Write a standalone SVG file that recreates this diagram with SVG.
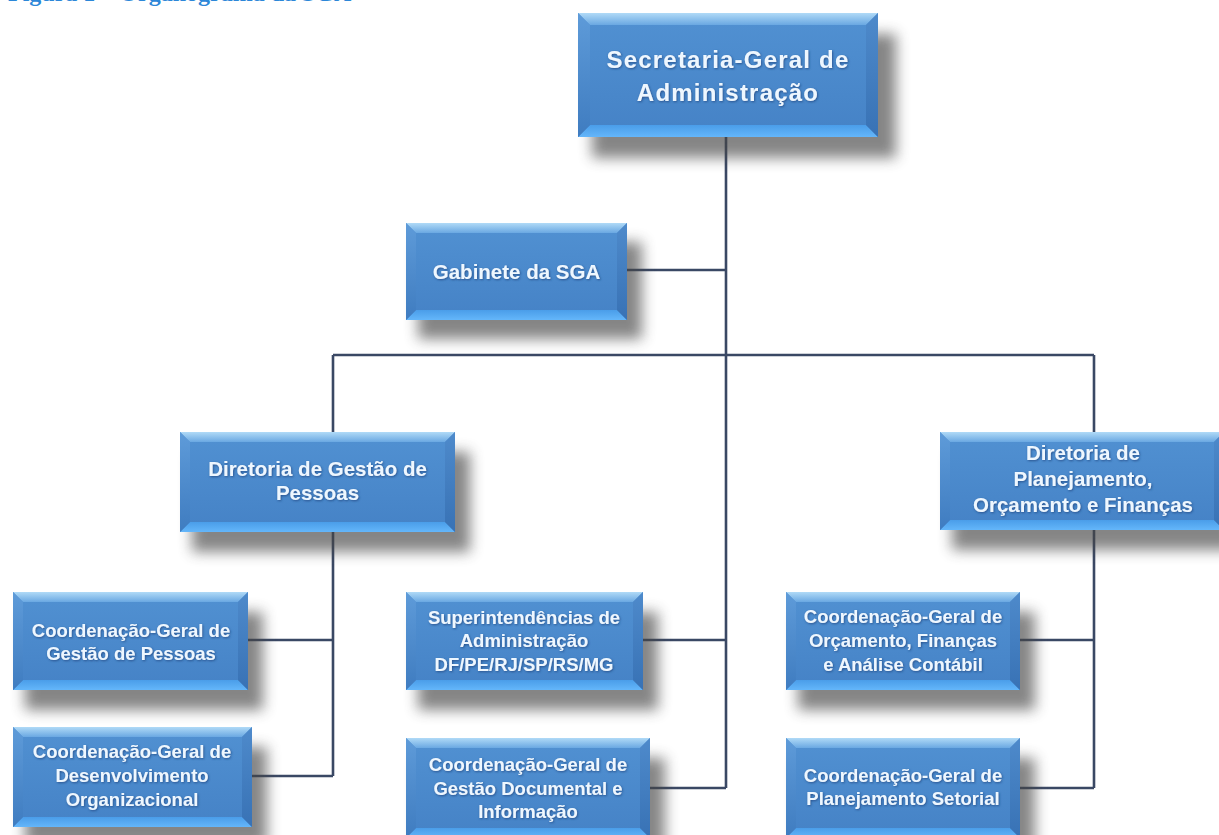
<svg xmlns="http://www.w3.org/2000/svg" width="1219" height="835" viewBox="0 0 1219 835">
  <defs>
    <linearGradient id="gFace" x1="0" y1="0" x2="0" y2="1">
      <stop offset="0" stop-color="#5191D2"/>
      <stop offset="1" stop-color="#4582C6"/>
    </linearGradient>
    <linearGradient id="gTop" x1="0" y1="0" x2="0" y2="1">
      <stop offset="0" stop-color="#B0DAF7"/>
      <stop offset="1" stop-color="#6AA8E2"/>
    </linearGradient>
    <linearGradient id="gBottom" x1="0" y1="0" x2="0" y2="1">
      <stop offset="0" stop-color="#4A9DE9"/>
      <stop offset="1" stop-color="#64B6FA"/>
    </linearGradient>
    <linearGradient id="gLeft" x1="0" y1="0" x2="0" y2="1">
      <stop offset="0" stop-color="#5E9BD9"/>
      <stop offset="1" stop-color="#3F7CC0"/>
    </linearGradient>
    <linearGradient id="gRight" x1="0" y1="0" x2="0" y2="1">
      <stop offset="0" stop-color="#4E8ACB"/>
      <stop offset="1" stop-color="#3872B5"/>
    </linearGradient>
    <filter id="blurShadow" x="-20%" y="-30%" width="140%" height="170%">
      <feGaussianBlur stdDeviation="7"/>
    </filter>
    <filter id="textGlow" x="-5%" y="-20%" width="110%" height="140%">
      <feDropShadow dx="0.8" dy="1" stdDeviation="0.9" flood-color="#1C4A82" flood-opacity="0.85"/>
    </filter>
  </defs>
  <style>
    .shadow { fill: #444; opacity: 0.65; filter: url(#blurShadow); }
    .face { fill: url(#gFace); }
    .bt { fill: url(#gTop); }
    .bb { fill: url(#gBottom); }
    .bl { fill: url(#gLeft); }
    .br { fill: url(#gRight); }
    .lbl { font-family: "Liberation Sans", Arial, sans-serif; font-weight: bold; fill: #EEF7FF; text-anchor: middle; filter: url(#textGlow); }
    .big { font-size: 24px; letter-spacing: 1.2px; }
    .mid { font-size: 20.5px; }
    .small { font-size: 18.5px; }
    .wire { fill: none; stroke: #3A4864; stroke-width: 2.6; }
    .caption { font-family: "Liberation Serif", "DejaVu Serif", serif; font-weight: bold; font-size: 24px; fill: #2C87D8; }
  </style>

  <!-- caption above the chart (cut at the top edge) -->
  <text class="caption" x="8" y="1">Figura 1 – Organograma da SGA</text>

  <!-- connectors -->
  <g id="connectors">
    <path class="wire" d="M726 137 V788"/>
    <path class="wire" d="M627 270 H726"/>
    <path class="wire" d="M333 355 H1094"/>
    <path class="wire" d="M333 355 V432 M333 532 V776"/>
    <path class="wire" d="M1094 355 V432 M1094 530 V788"/>
    <path class="wire" d="M248 640 H333 M252 776 H333"/>
    <path class="wire" d="M643 640 H726 M650 788 H726"/>
    <path class="wire" d="M1020 640 H1094 M1020 788 H1094"/>
  </g>

  <!-- Secretaria-Geral de Administração -->
  <g id="sga">
    <rect class="shadow" x="592" y="34" width="304" height="124"/>
    <rect class="face" x="578" y="13" width="300" height="124"/>
    <polygon class="bt" points="578,13 878,13 866,25 590,25"/>
    <polygon class="bb" points="578,137 878,137 866,125 590,125"/>
    <polygon class="bl" points="578,13 590,25 590,125 578,137"/>
    <polygon class="br" points="878,13 866,25 866,125 878,137"/>
    <text class="lbl big" x="728" y="68">Secretaria-Geral de</text>
    <text class="lbl big" x="728" y="101">Administração</text>
  </g>

  <!-- Gabinete da SGA -->
  <g id="gabinete">
    <rect class="shadow" x="418" y="242" width="224" height="97"/>
    <rect class="face" x="406" y="223" width="221" height="97"/>
    <polygon class="bt" points="406,223 627,223 617,233 416,233"/>
    <polygon class="bb" points="406,320 627,320 617,310 416,310"/>
    <polygon class="bl" points="406,223 416,233 416,310 406,320"/>
    <polygon class="br" points="627,223 617,233 617,310 627,320"/>
    <text class="lbl mid" x="516.5" y="279">Gabinete da SGA</text>
  </g>

  <!-- Diretoria de Gestão de Pessoas -->
  <g id="dgp">
    <rect class="shadow" x="192" y="452" width="278" height="100"/>
    <rect class="face" x="180" y="432" width="275" height="100"/>
    <polygon class="bt" points="180,432 455,432 445,442 190,442"/>
    <polygon class="bb" points="180,532 455,532 445,522 190,522"/>
    <polygon class="bl" points="180,432 190,442 190,522 180,532"/>
    <polygon class="br" points="455,432 445,442 445,522 455,532"/>
    <text class="lbl mid" x="317.5" y="476">Diretoria de Gestão de</text>
    <text class="lbl mid" x="317.5" y="500">Pessoas</text>
  </g>

  <!-- Diretoria de Planejamento, Orçamento e Finanças -->
  <g id="dpof">
    <rect class="shadow" x="952" y="451" width="282" height="99"/>
    <rect class="face" x="940" y="432" width="284" height="98"/>
    <polygon class="bt" points="940,432 1224,432 1214,442 950,442"/>
    <polygon class="bb" points="940,530 1224,530 1214,520 950,520"/>
    <polygon class="bl" points="940,432 950,442 950,520 940,530"/>
    <polygon class="br" points="1224,432 1214,442 1214,520 1224,530"/>
    <text class="lbl mid" x="1083" y="460">Diretoria de</text>
    <text class="lbl mid" x="1083" y="486">Planejamento,</text>
    <text class="lbl mid" x="1083" y="512">Orçamento e Finanças</text>
  </g>

  <!-- Coordenação-Geral de Gestão de Pessoas -->
  <g id="cggp">
    <rect class="shadow" x="25" y="612" width="238" height="98"/>
    <rect class="face" x="13" y="592" width="235" height="98"/>
    <polygon class="bt" points="13,592 248,592 238,602 23,602"/>
    <polygon class="bb" points="13,690 248,690 238,680 23,680"/>
    <polygon class="bl" points="13,592 23,602 23,680 13,690"/>
    <polygon class="br" points="248,592 238,602 238,680 248,690"/>
    <text class="lbl small" x="131" y="637">Coordenação-Geral de</text>
    <text class="lbl small" x="131" y="660">Gestão de Pessoas</text>
  </g>

  <!-- Coordenação-Geral de Desenvolvimento Organizacional -->
  <g id="cgdo">
    <rect class="shadow" x="25" y="747" width="242" height="100"/>
    <rect class="face" x="13" y="727" width="239" height="100"/>
    <polygon class="bt" points="13,727 252,727 242,737 23,737"/>
    <polygon class="bb" points="13,827 252,827 242,817 23,817"/>
    <polygon class="bl" points="13,727 23,737 23,817 13,827"/>
    <polygon class="br" points="252,727 242,737 242,817 252,827"/>
    <text class="lbl small" x="132" y="758">Coordenação-Geral de</text>
    <text class="lbl small" x="132" y="782">Desenvolvimento</text>
    <text class="lbl small" x="132" y="806">Organizacional</text>
  </g>

  <!-- Superintendências de Administração -->
  <g id="sad">
    <rect class="shadow" x="418" y="612" width="240" height="98"/>
    <rect class="face" x="406" y="592" width="237" height="98"/>
    <polygon class="bt" points="406,592 643,592 633,602 416,602"/>
    <polygon class="bb" points="406,690 643,690 633,680 416,680"/>
    <polygon class="bl" points="406,592 416,602 416,680 406,690"/>
    <polygon class="br" points="643,592 633,602 633,680 643,690"/>
    <text class="lbl small" x="524" y="624">Superintendências de</text>
    <text class="lbl small" x="524" y="647">Administração</text>
    <text class="lbl small" x="524" y="671">DF/PE/RJ/SP/RS/MG</text>
  </g>

  <!-- Coordenação-Geral de Gestão Documental e Informação -->
  <g id="cgdi">
    <rect class="shadow" x="418" y="758" width="247" height="100"/>
    <rect class="face" x="406" y="738" width="244" height="100"/>
    <polygon class="bt" points="406,738 650,738 640,748 416,748"/>
    <polygon class="bb" points="406,838 650,838 640,828 416,828"/>
    <polygon class="bl" points="406,738 416,748 416,828 406,838"/>
    <polygon class="br" points="650,738 640,748 640,828 650,838"/>
    <text class="lbl small" x="528" y="771">Coordenação-Geral de</text>
    <text class="lbl small" x="528" y="795">Gestão Documental e</text>
    <text class="lbl small" x="528" y="818">Informação</text>
  </g>

  <!-- Coordenação-Geral de Orçamento, Finanças e Análise Contábil -->
  <g id="cgofc">
    <rect class="shadow" x="798" y="612" width="237" height="98"/>
    <rect class="face" x="786" y="592" width="234" height="98"/>
    <polygon class="bt" points="786,592 1020,592 1010,602 796,602"/>
    <polygon class="bb" points="786,690 1020,690 1010,680 796,680"/>
    <polygon class="bl" points="786,592 796,602 796,680 786,690"/>
    <polygon class="br" points="1020,592 1010,602 1010,680 1020,690"/>
    <text class="lbl small" x="903" y="623">Coordenação-Geral de</text>
    <text class="lbl small" x="903" y="647">Orçamento, Finanças</text>
    <text class="lbl small" x="903" y="671">e Análise Contábil</text>
  </g>

  <!-- Coordenação-Geral de Planejamento Setorial -->
  <g id="cgps">
    <rect class="shadow" x="798" y="758" width="237" height="100"/>
    <rect class="face" x="786" y="738" width="234" height="100"/>
    <polygon class="bt" points="786,738 1020,738 1010,748 796,748"/>
    <polygon class="bb" points="786,838 1020,838 1010,828 796,828"/>
    <polygon class="bl" points="786,738 796,748 796,828 786,838"/>
    <polygon class="br" points="1020,738 1010,748 1010,828 1020,838"/>
    <text class="lbl small" x="903" y="782">Coordenação-Geral de</text>
    <text class="lbl small" x="903" y="805">Planejamento Setorial</text>
  </g>
</svg>
